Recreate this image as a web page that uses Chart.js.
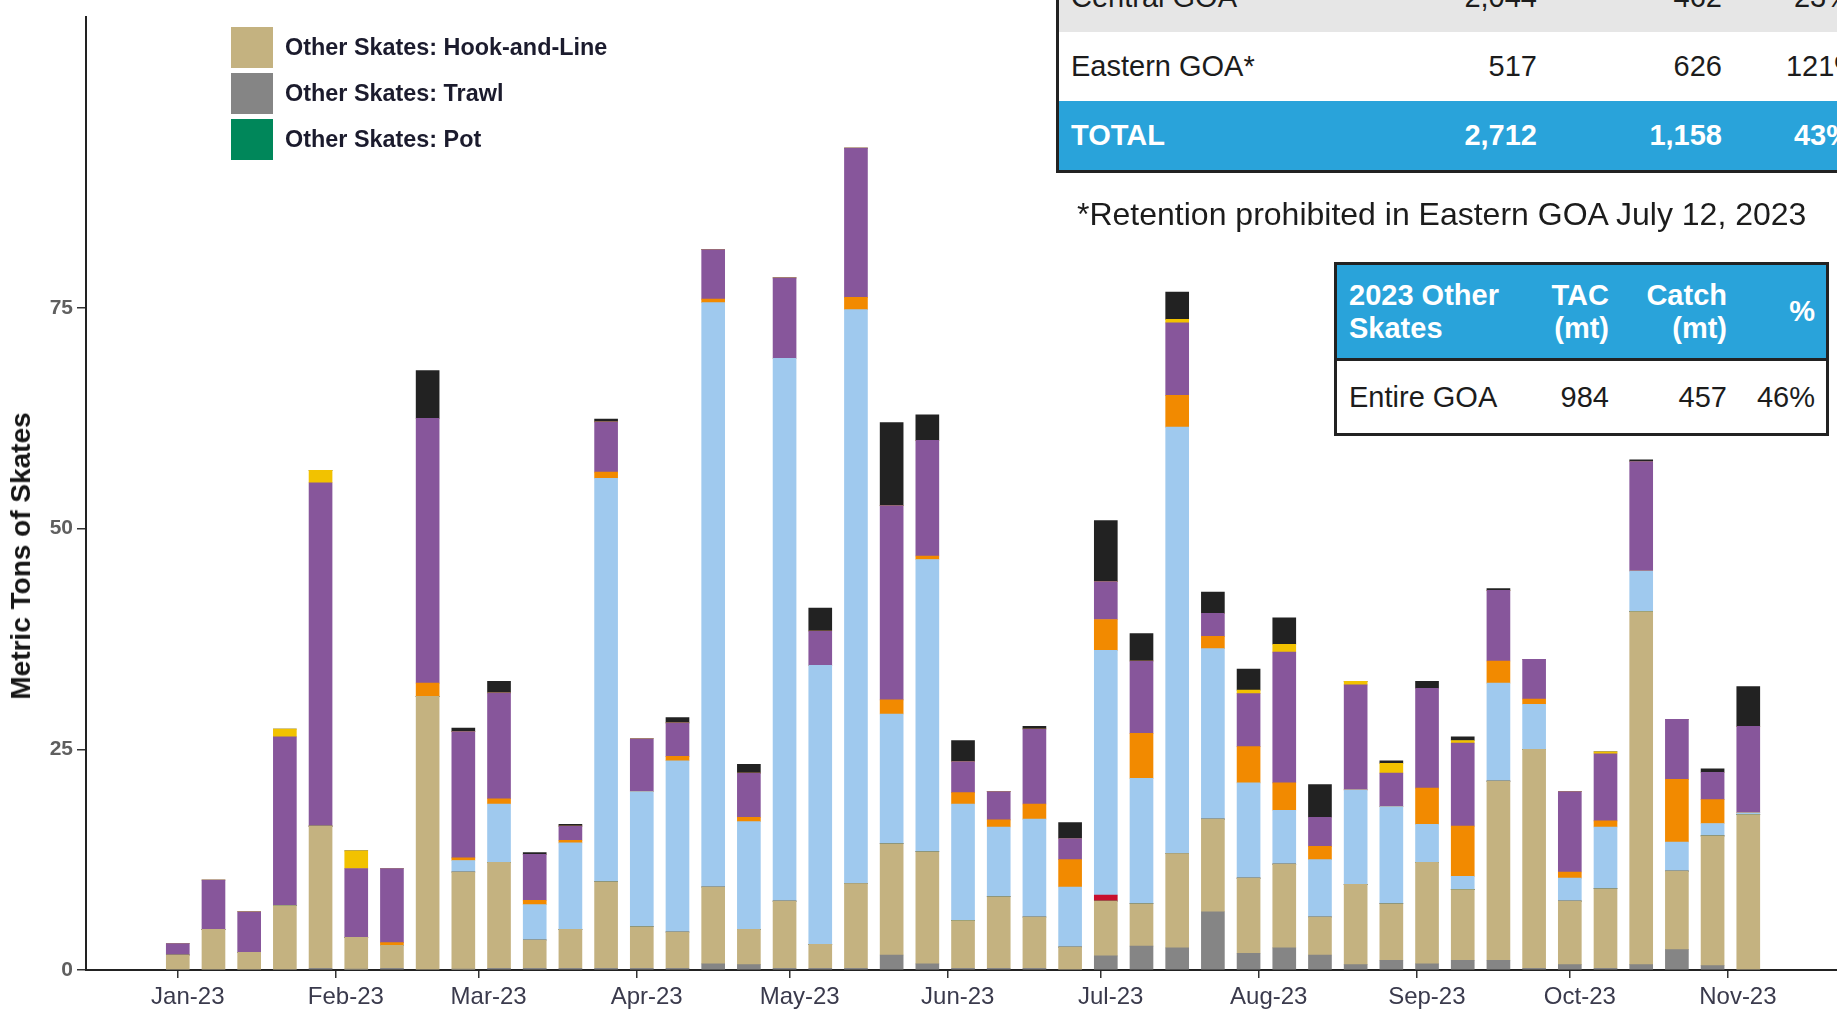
<!DOCTYPE html>
<html lang="en">
<head>
<meta charset="UTF-8">
<title>Other Skates catch 2023</title>
<script src="https://cdn.jsdelivr.net/npm/chart.js"></script>
<style>
  html, body { margin: 0; padding: 0; background: #fff; overflow: hidden; }
  #wrap { position: relative; width: 1837px; height: 1009px; overflow: hidden; font-family: "Liberation Sans", Arial, sans-serif; }
  #chartBox { position: absolute; left: 0; top: 0; width: 1837px; height: 1009px; }
  #legend { position: absolute; left: 231px; top: 27px; }
  .lg-row { display: flex; align-items: center; height: 41px; margin-bottom: 5px; }
  .lg-box { width: 42px; height: 41px; margin-right: 12px; }
  .lg-text { font-weight: bold; font-size: 23.4px; color: #1b1b2d; white-space: nowrap; }
  #ytitle { position: absolute; left: 21px; top: 556px; transform: translate(-50%, -50%) rotate(-90deg);
            font-weight: bold; font-size: 28px; color: #161616; white-space: nowrap; }
  table { position: absolute; border-collapse: separate; border-spacing: 0; border: 3px solid #222;
          font-size: 29px; color: #1c1c1c; background: #fff; table-layout: fixed; }
  td { padding: 0; white-space: nowrap; vertical-align: middle; overflow: visible; }
  #regionTable { left: 1056px; top: -40px; width: 858px; }
  #regionTable tr { height: 69px; }
  #regionTable tr.grey td { background: #e6e6e6; }
  #regionTable tr.total td { background: #29a3da; color: #fff; font-weight: bold; }
  #regionTable td.c1 { padding-left: 12px; }
  #regionTable td.c2, #regionTable td.c3 { text-align: right; padding-right: 13px; }
  #regionTable td.c4 { text-align: center; }
  #note { position: absolute; left: 1077px; top: 198px; font-size: 32px; line-height: 32px; color: #1c1c1c; white-space: nowrap; }
  #tacTable { left: 1334px; top: 262px; width: 495px; }
  #tacTable tr.head td { background: #29a3da; color: #fff; font-weight: bold; line-height: 33px; height: 93px;
                         border-bottom: 3px solid #222; }
  #tacTable tr.body td { height: 72px; }
  #tacTable td.c1 { padding-left: 12px; }
  #tacTable td.c2, #tacTable td.c3, #tacTable td.c4 { text-align: right; padding-right: 11px; }
</style>
</head>
<body>
<div id="wrap">
  <div id="chartBox"><canvas id="catchChart"></canvas></div>
  <div id="legend"></div>
  <div id="ytitle">Metric Tons of Skates</div>
  <table id="regionTable"></table>
  <div id="note">*Retention prohibited in Eastern GOA July 12, 2023</div>
  <table id="tacTable"></table>
</div>

<script>
  // semana (dia do ano, 0 = 1 jan 2023)
  const weekDay = [0, 7, 14, 21, 28, 35, 42, 49, 56, 63, 70, 77, 84, 91, 98, 105, 112, 119, 126, 133, 140, 147, 154,
    161, 168, 175, 182, 189, 196, 203, 210, 217, 224, 231, 238, 245, 252, 259, 266, 273, 280, 287, 294, 301, 308];
  const monthStarts = [0, 31, 59, 90, 120, 151, 181, 212, 243, 273, 304];
  const monthLabels = ['Jan-23', 'Feb-23', 'Mar-23', 'Apr-23', 'May-23', 'Jun-23', 'Jul-23', 'Aug-23', 'Sep-23', 'Oct-23', 'Nov-23'];
  const yTicks = [0, 25, 50, 75];

  // series, bottom of stack first
  const trawl = [0, 0, 0, 0, 0.2, 0.1, 0.2, 0, 0.1, 0.2, 0.2, 0.2, 0.2, 0.2, 0.2, 0.7, 0.6, 0.2, 0.2, 0.2, 1.7, 0.7, 0.2,
    0.2, 0.2, 0, 1.6, 2.7, 2.5, 6.6, 1.9, 2.5, 1.7, 0.6, 1.1, 0.7, 1.1, 1.1, 0.2, 0.6, 0.2, 0.6, 2.3, 0.5, 0];
  const hookLine = [1.7, 4.6, 2.0, 7.3, 16.1, 3.6, 2.6, 31.0, 11.0, 12.0, 3.2, 4.4, 9.8, 4.7, 4.1, 8.7, 4.0, 7.6, 2.7, 9.6,
    12.6, 12.7, 5.4, 8.1, 5.8, 2.6, 6.2, 4.8, 10.7, 10.5, 8.5, 9.5, 4.3, 9.1, 6.4, 11.5, 8.0, 20.3, 24.8, 7.2, 9.0, 40.0,
    8.9, 14.7, 17.6];
  const pot = [0, 0, 0, 0, 0, 0, 0, 0, 0, 0, 0, 0, 0, 0, 0, 0, 0, 0, 0, 0, 0, 0, 0, 0, 0, 0, 0, 0, 0, 0, 0, 0, 0, 0, 0, 0,
    0, 0, 0, 0, 0, 0, 0, 0, 0];
  const seriesRed = [0, 0, 0, 0, 0, 0, 0, 0, 0, 0, 0, 0, 0, 0, 0, 0, 0, 0, 0, 0, 0, 0, 0, 0, 0, 0, 0.7, 0, 0, 0, 0, 0, 0,
    0, 0, 0, 0, 0, 0, 0, 0, 0, 0, 0, 0];
  const seriesBlue = [0, 0, 0, 0, 0, 0, 0, 0, 1.3, 6.6, 4.0, 9.8, 45.7, 15.3, 19.4, 66.2, 12.2, 61.5, 31.6, 65.0, 14.7,
    33.1, 13.2, 7.9, 11.1, 6.8, 27.7, 14.2, 48.3, 19.3, 10.8, 6.1, 6.5, 10.7, 11.0, 4.3, 1.5, 11.1, 5.1, 2.6, 7.0, 4.6,
    3.3, 1.4, 0.2];
  const seriesOrange = [0, 0, 0, 0, 0, 0, 0.3, 1.5, 0.3, 0.6, 0.5, 0.3, 0.7, 0, 0.5, 0.4, 0.5, 0, 0, 1.4, 1.6, 0.4, 1.3,
    0.8, 1.7, 3.1, 3.5, 5.1, 3.6, 1.4, 4.1, 3.1, 1.5, 0, 0, 4.1, 5.7, 2.5, 0.6, 0.7, 0.7, 0, 7.1, 2.7, 0];
  const seriesPurple = [1.3, 5.6, 4.6, 19.1, 38.9, 7.8, 8.4, 30.0, 14.3, 12.0, 5.2, 1.6, 5.7, 6.0, 3.8, 5.6, 5.0, 9.1, 3.9,
    16.9, 22.0, 13.1, 3.5, 3.2, 8.5, 2.4, 4.3, 8.2, 8.2, 2.6, 6.0, 14.8, 3.3, 11.9, 3.8, 11.3, 9.4, 8.0, 4.5, 9.1, 7.6,
    12.4, 6.8, 3.1, 9.8];
  const seriesYellow = [0, 0, 0, 0.9, 1.4, 2.0, 0, 0, 0, 0, 0, 0, 0, 0, 0, 0, 0, 0, 0, 0, 0, 0, 0, 0, 0, 0, 0, 0, 0.4, 0,
    0.4, 0.9, 0, 0.4, 1.1, 0, 0.3, 0, 0, 0, 0.2, 0, 0, 0, 0];
  const seriesBlack = [0, 0, 0, 0, 0, 0, 0, 5.4, 0.4, 1.3, 0.2, 0.2, 0.3, 0, 0.6, 0, 1.0, 0, 2.6, 0, 9.4, 2.9, 2.4, 0,
    0.3, 1.8, 6.9, 3.1, 3.1, 2.4, 2.4, 3.0, 3.7, 0, 0.3, 0.8, 0.4, 0.2, 0, 0, 0, 0.2, 0, 0.4, 4.5];

  const regionRows = [
    ['Central GOA', '2,044', '462', '23%'],
    ['Eastern GOA*', '517', '626', '121%'],
    ['TOTAL', '2,712', '1,158', '43%']
  ];
  const tacHead = ['2023 Other<br>Skates', 'TAC<br>(mt)', 'Catch<br>(mt)', '%'];
  const tacRow = ['Entire GOA', '984', '457', '46%'];

  const series = [
    { label: 'Other Skates: Trawl', data: trawl, color: '#858585', legend: 2 },
    { label: 'Other Skates: Hook-and-Line', data: hookLine, color: '#c4b280', legend: 1 },
    { label: 'Other Skates: Pot', data: pot, color: '#00875a', legend: 3 },
    { label: 'red', data: seriesRed, color: '#c8102e', legend: 0 },
    { label: 'light blue', data: seriesBlue, color: '#9fc9ee', legend: 0 },
    { label: 'orange', data: seriesOrange, color: '#f28a00', legend: 0 },
    { label: 'purple', data: seriesPurple, color: '#87569b', legend: 0 },
    { label: 'yellow', data: seriesYellow, color: '#f2c200', legend: 0 },
    { label: 'black', data: seriesBlack, color: '#222222', legend: 0 }
  ];

  const datasets = series.map(s => ({
    label: s.label,
    data: weekDay.map((d, i) => ({ x: d, y: s.data[i] })),
    backgroundColor: s.color,
    borderWidth: 0,
    barThickness: 23
  }));

  const ctx = document.getElementById('catchChart').getContext('2d');
  new Chart(ctx, {
    type: 'bar',
    data: { datasets: datasets },
    options: {
      responsive: true,
      maintainAspectRatio: false,
      animation: false,
      events: [],
      layout: { padding: { top: 12, left: 0, right: 0, bottom: 0 } },
      plugins: { legend: { display: false }, tooltip: { enabled: false } },
      scales: {
        x: {
          type: 'linear',
          min: -18,
          max: 325.4,
          offset: false,
          stacked: true,
          grid: { offset: false, drawOnChartArea: false, drawTicks: true, tickLength: 8, color: '#333', lineWidth: 1.5 },
          border: { display: true, color: '#222', width: 2 },
          afterBuildTicks: scale => { scale.ticks = monthStarts.map(v => ({ value: v })); },
          afterFit: scale => { scale.height = 39; },
          ticks: {
            autoSkip: false,
            maxRotation: 0,
            padding: 5,
            labelOffset: 10,
            color: '#3a3a4c',
            font: { family: 'Liberation Sans', size: 24 },
            callback: value => monthLabels[monthStarts.indexOf(value)]
          }
        },
        y: {
          min: 0,
          max: 108,
          stacked: true,
          grid: { drawOnChartArea: false, drawTicks: true, tickLength: 9, color: '#333', lineWidth: 1.5 },
          border: { display: true, color: '#222', width: 2 },
          afterBuildTicks: scale => { scale.ticks = yTicks.map(v => ({ value: v })); },
          afterFit: scale => { scale.width = 86; },
          ticks: {
            padding: 4,
            color: '#5f5f5f',
            font: { family: 'Liberation Sans', size: 21, weight: 'bold' }
          }
        }
      }
    }
  });

  // legenda (so as tres entradas visiveis)
  const legendBox = document.getElementById('legend');
  series.filter(s => s.legend > 0).sort((a, b) => a.legend - b.legend).forEach(s => {
    const row = document.createElement('div');
    row.className = 'lg-row';
    row.innerHTML = `<div class="lg-box" style="background:${s.color}"></div><span class="lg-text">${s.label}</span>`;
    legendBox.appendChild(row);
  });

  // tabela por regiao
  const regionTable = document.getElementById('regionTable');
  regionTable.innerHTML = '<colgroup><col style="width:281px"><col style="width:210px"><col style="width:185px"><col style="width:176px"></colgroup>' +
    regionRows.map((r, i) => {
      const cls = i === 0 ? 'grey' : (i === regionRows.length - 1 ? 'total' : '');
      return `<tr class="${cls}">` + r.map((c, j) => `<td class="c${j + 1}">${c}</td>`).join('') + '</tr>';
    }).join('');

  // tabela TAC
  const tacTable = document.getElementById('tacTable');
  tacTable.innerHTML = '<colgroup><col style="width:183px"><col style="width:100px"><col style="width:118px"><col style="width:88px"></colgroup>' +
    '<tr class="head">' + tacHead.map((c, j) => `<td class="c${j + 1}">${c}</td>`).join('') + '</tr>' +
    '<tr class="body">' + tacRow.map((c, j) => `<td class="c${j + 1}">${c}</td>`).join('') + '</tr>';
</script>
</body>
</html>
